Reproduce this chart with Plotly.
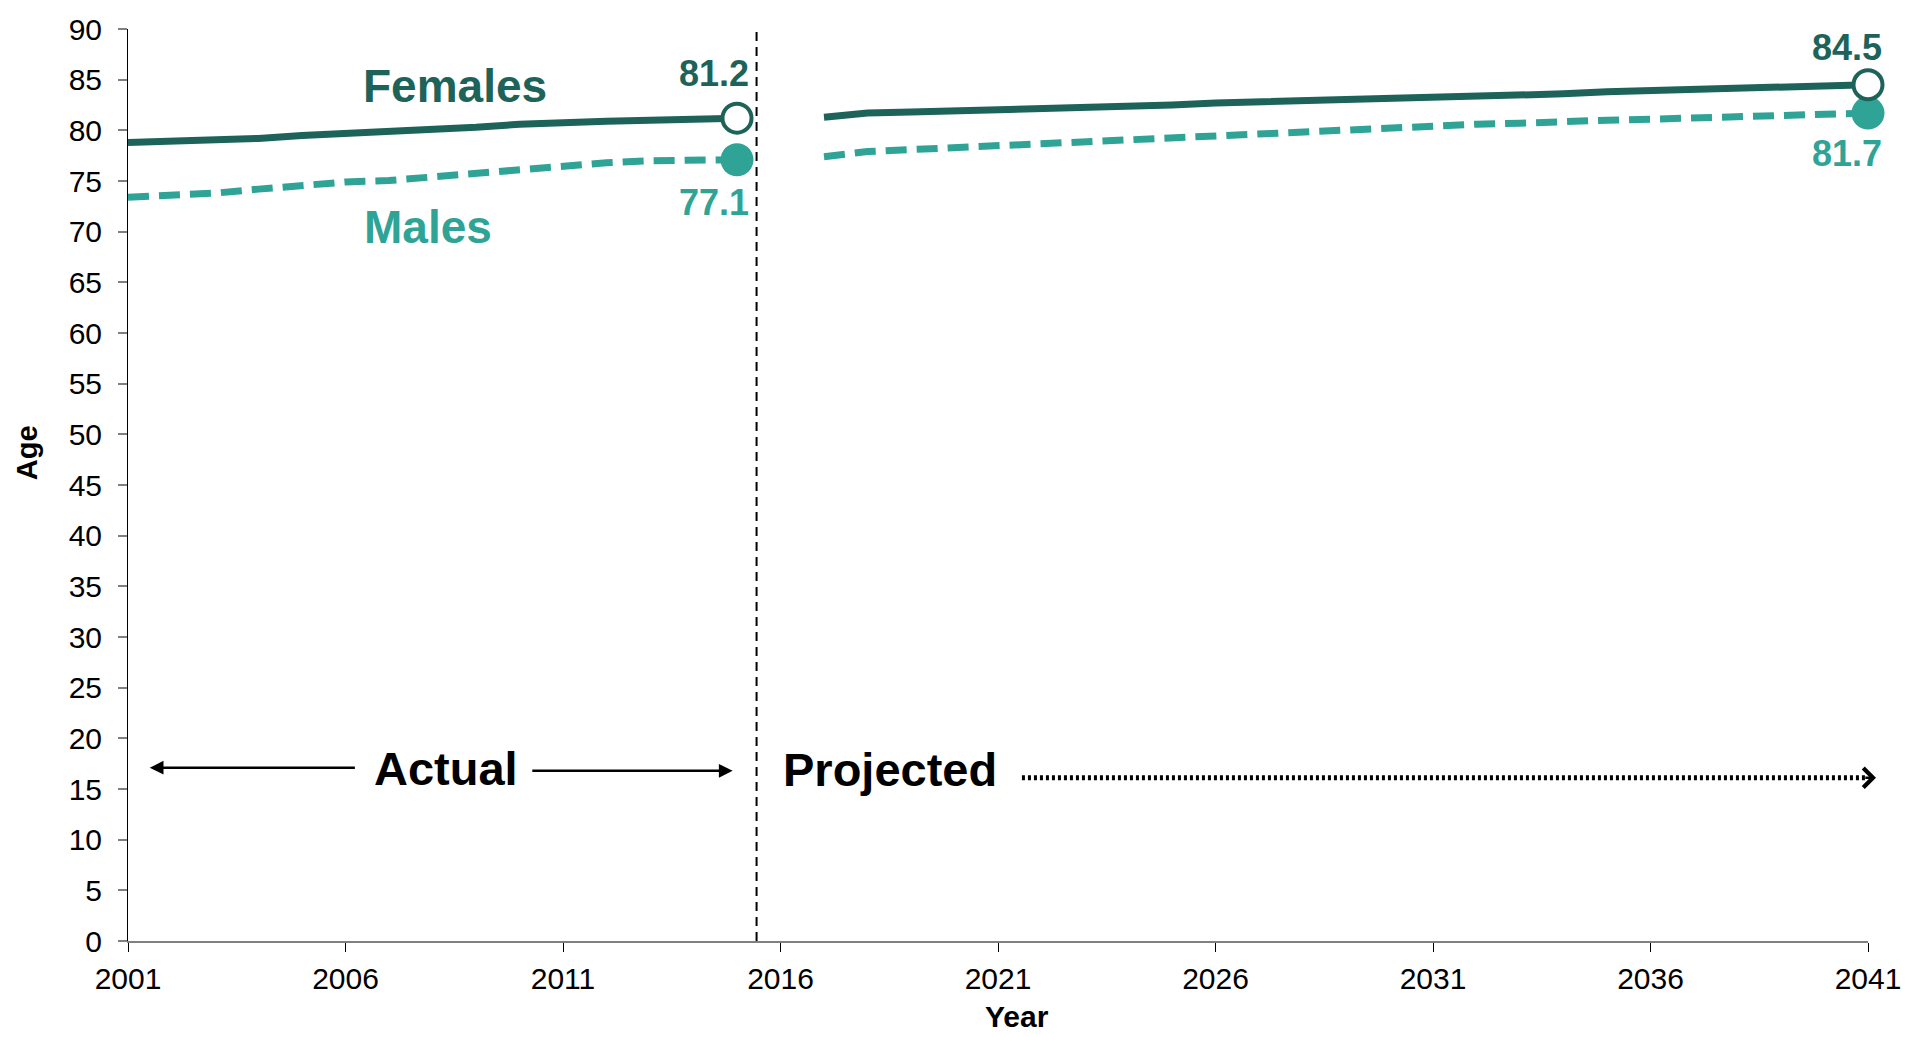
import plotly.graph_objects as go

# ---------------- data ----------------
actual_years = list(range(2001, 2016))
females_actual = [78.8, 78.9, 79.1, 79.2, 79.5, 79.7, 79.8, 80.1, 80.3, 80.6, 80.8, 80.9, 81.0, 81.1, 81.2]
males_actual = [73.4, 73.6, 73.8, 74.2, 74.6, 74.9, 75.05, 75.4, 75.85, 76.2, 76.5, 76.8, 77.0, 77.1, 77.1]

proj_years = list(range(2017, 2042))
females_proj = [81.3, 81.7, 81.8, 81.9, 82.0, 82.2, 82.3, 82.4, 82.5, 82.7, 82.8, 82.9, 83.0,
                83.2, 83.3, 83.4, 83.5, 83.6, 83.8, 83.9, 84.0, 84.1, 84.3, 84.4, 84.5]
males_proj = [77.4, 77.9, 78.1, 78.3, 78.5, 78.6, 78.8, 79.05, 79.3, 79.5, 79.7, 79.9, 80.0,
              80.2, 80.4, 80.6, 80.7, 80.9, 81.0, 81.1, 81.2, 81.3, 81.4, 81.55, 81.7]

x_ticks = [2001, 2006, 2011, 2016, 2021, 2026, 2031, 2036, 2041]
y_ticks = list(range(0, 95, 5))

FEM = "#1D6359"
MAL = "#2EA396"
FONT = "Liberation Sans, Arial, sans-serif"

W, H = 1920, 1037
ML, MR, MT, MB = 128, 52, 21, 96
PW, PH = W - ML - MR, H - MT - MB

fig = go.Figure()

# males (drawn first so female markers sit on top)
for xs, ys in [(actual_years, males_actual), (proj_years, males_proj)]:
    fig.add_trace(go.Scatter(x=xs, y=ys, mode="lines",
                             line=dict(color=MAL, width=7, dash="21px,10px"),
                             hoverinfo="skip", showlegend=False, cliponaxis=False))
for xs, ys in [(actual_years, females_actual), (proj_years, females_proj)]:
    fig.add_trace(go.Scatter(x=xs, y=ys, mode="lines",
                             line=dict(color=FEM, width=7),
                             hoverinfo="skip", showlegend=False, cliponaxis=False))

end_x = [actual_years[-1], proj_years[-1]]
male_end = [males_actual[-1], males_proj[-1]]
fem_end = [females_actual[-1], females_proj[-1]]

fig.add_trace(go.Scatter(x=end_x, y=male_end, mode="markers",
                         marker=dict(size=33, color=MAL, line=dict(width=0)),
                         hoverinfo="skip", showlegend=False, cliponaxis=False))
fig.add_trace(go.Scatter(x=end_x, y=fem_end, mode="markers",
                         marker=dict(size=29, color="white", line=dict(color=FEM, width=4)),
                         hoverinfo="skip", showlegend=False, cliponaxis=False))

# value labels (offsets in pixels from the end markers)
lab_font_f = dict(family=FONT, size=36, color=FEM)
lab_font_m = dict(family=FONT, size=36, color=MAL)
for xv, yv, ysh, xsh in zip(end_x, fem_end, [45, 37], [14, 16]):
    fig.add_annotation(x=xv, y=yv, text=f"<b>{yv:.1f}</b>", showarrow=False,
                       xanchor="right", yanchor="middle", xshift=xsh, yshift=ysh, font=lab_font_f)
for xv, yv, ysh, xsh in zip(end_x, male_end, [-43, -40], [14, 16]):
    fig.add_annotation(x=xv, y=yv, text=f"<b>{yv:.1f}</b>", showarrow=False,
                       xanchor="right", yanchor="middle", xshift=xsh, yshift=ysh, font=lab_font_m)

# series names
fig.add_annotation(x=2008.52, y=84.4, text="<b>Females</b>", showarrow=False,
                   font=dict(family=FONT, size=46, color=FEM))
fig.add_annotation(x=2007.9, y=70.45, text="<b>Males</b>", showarrow=False,
                   font=dict(family=FONT, size=46, color=MAL))

# Actual / Projected
fig.add_annotation(x=2008.3, y=17.05, text="<b>Actual</b>", showarrow=False,
                   font=dict(family=FONT, size=47, color="black"))
fig.add_annotation(x=2018.52, y=16.97, text="<b>Projected</b>", showarrow=False,
                   font=dict(family=FONT, size=47, color="black"))

# arrows
fig.add_annotation(x=2001.5, y=17.1, ax=2006.25, ay=17.1, axref="x", ayref="y",
                   xref="x", yref="y", text="", showarrow=True, arrowhead=2,
                   arrowsize=1.1, arrowwidth=2.5, arrowcolor="black")
fig.add_annotation(x=2014.9, y=16.8, ax=2010.26, ay=16.8, axref="x", ayref="y",
                   xref="x", yref="y", text="", showarrow=True, arrowhead=2,
                   arrowsize=1.1, arrowwidth=2.5, arrowcolor="black")
fig.add_shape(type="line", x0=2021.55, x1=2040.95, y0=16.1, y1=16.1, xref="x", yref="y",
              line=dict(color="black", width=5, dash="3px,3px"))
fig.add_annotation(x=2041.0, y=16.1, ax=2039.8, ay=16.1, axref="x", ayref="y",
                   xref="x", yref="y", text="", showarrow=True, arrowhead=4,
                   arrowsize=1.5, arrowwidth=2.5, arrowcolor="black",
                   startstandoff=40, xshift=8)

# divider
fig.add_shape(type="line", x0=2015.45, x1=2015.45, y0=0, y1=90, xref="x", yref="y",
              line=dict(color="black", width=2, dash="9px,6px"))

# axis titles (pixel positions converted to paper coordinates)
fig.add_annotation(x=0.511, y=(H - MB - 1036) / PH, xref="paper", yref="paper",
                   text="<b>Year</b>", showarrow=False, xanchor="center", yanchor="bottom",
                   font=dict(family=FONT, size=30, color="black"))
fig.add_annotation(x=(27 - ML) / PW, y=(H - MB - 449) / PH, xref="paper", yref="paper",
                   text="<b>Age</b>", showarrow=False, textangle=-90,
                   xanchor="center", yanchor="middle",
                   font=dict(family=FONT, size=29, color="black"))

fig.update_layout(
    width=W, height=H,
    margin=dict(l=ML, r=MR, t=MT, b=MB),
    paper_bgcolor="white", plot_bgcolor="white",
    font=dict(family=FONT, size=30, color="black"),
    showlegend=False,
    xaxis=dict(range=[2001, 2041], tickvals=x_ticks, ticktext=[str(v) for v in x_ticks],
               showgrid=False, zeroline=False, showline=True, linecolor="#808080", linewidth=2,
               ticks="outside", ticklen=9, tickwidth=1, tickcolor="black",
               tickfont=dict(family=FONT, size=30, color="black"), ticklabelstandoff=1),
    yaxis=dict(range=[0, 90], tickvals=y_ticks, showgrid=False, zeroline=False,
               showline=True, linecolor="black", linewidth=1,
               ticks="outside", ticklen=9, tickwidth=2, tickcolor="#808080",
               tickfont=dict(family=FONT, size=30, color="black"), ticklabelstandoff=10),
)

fig.write_html("out.html", config={"displayModeBar": False},
               post_script="document.body.style.margin='0';")
